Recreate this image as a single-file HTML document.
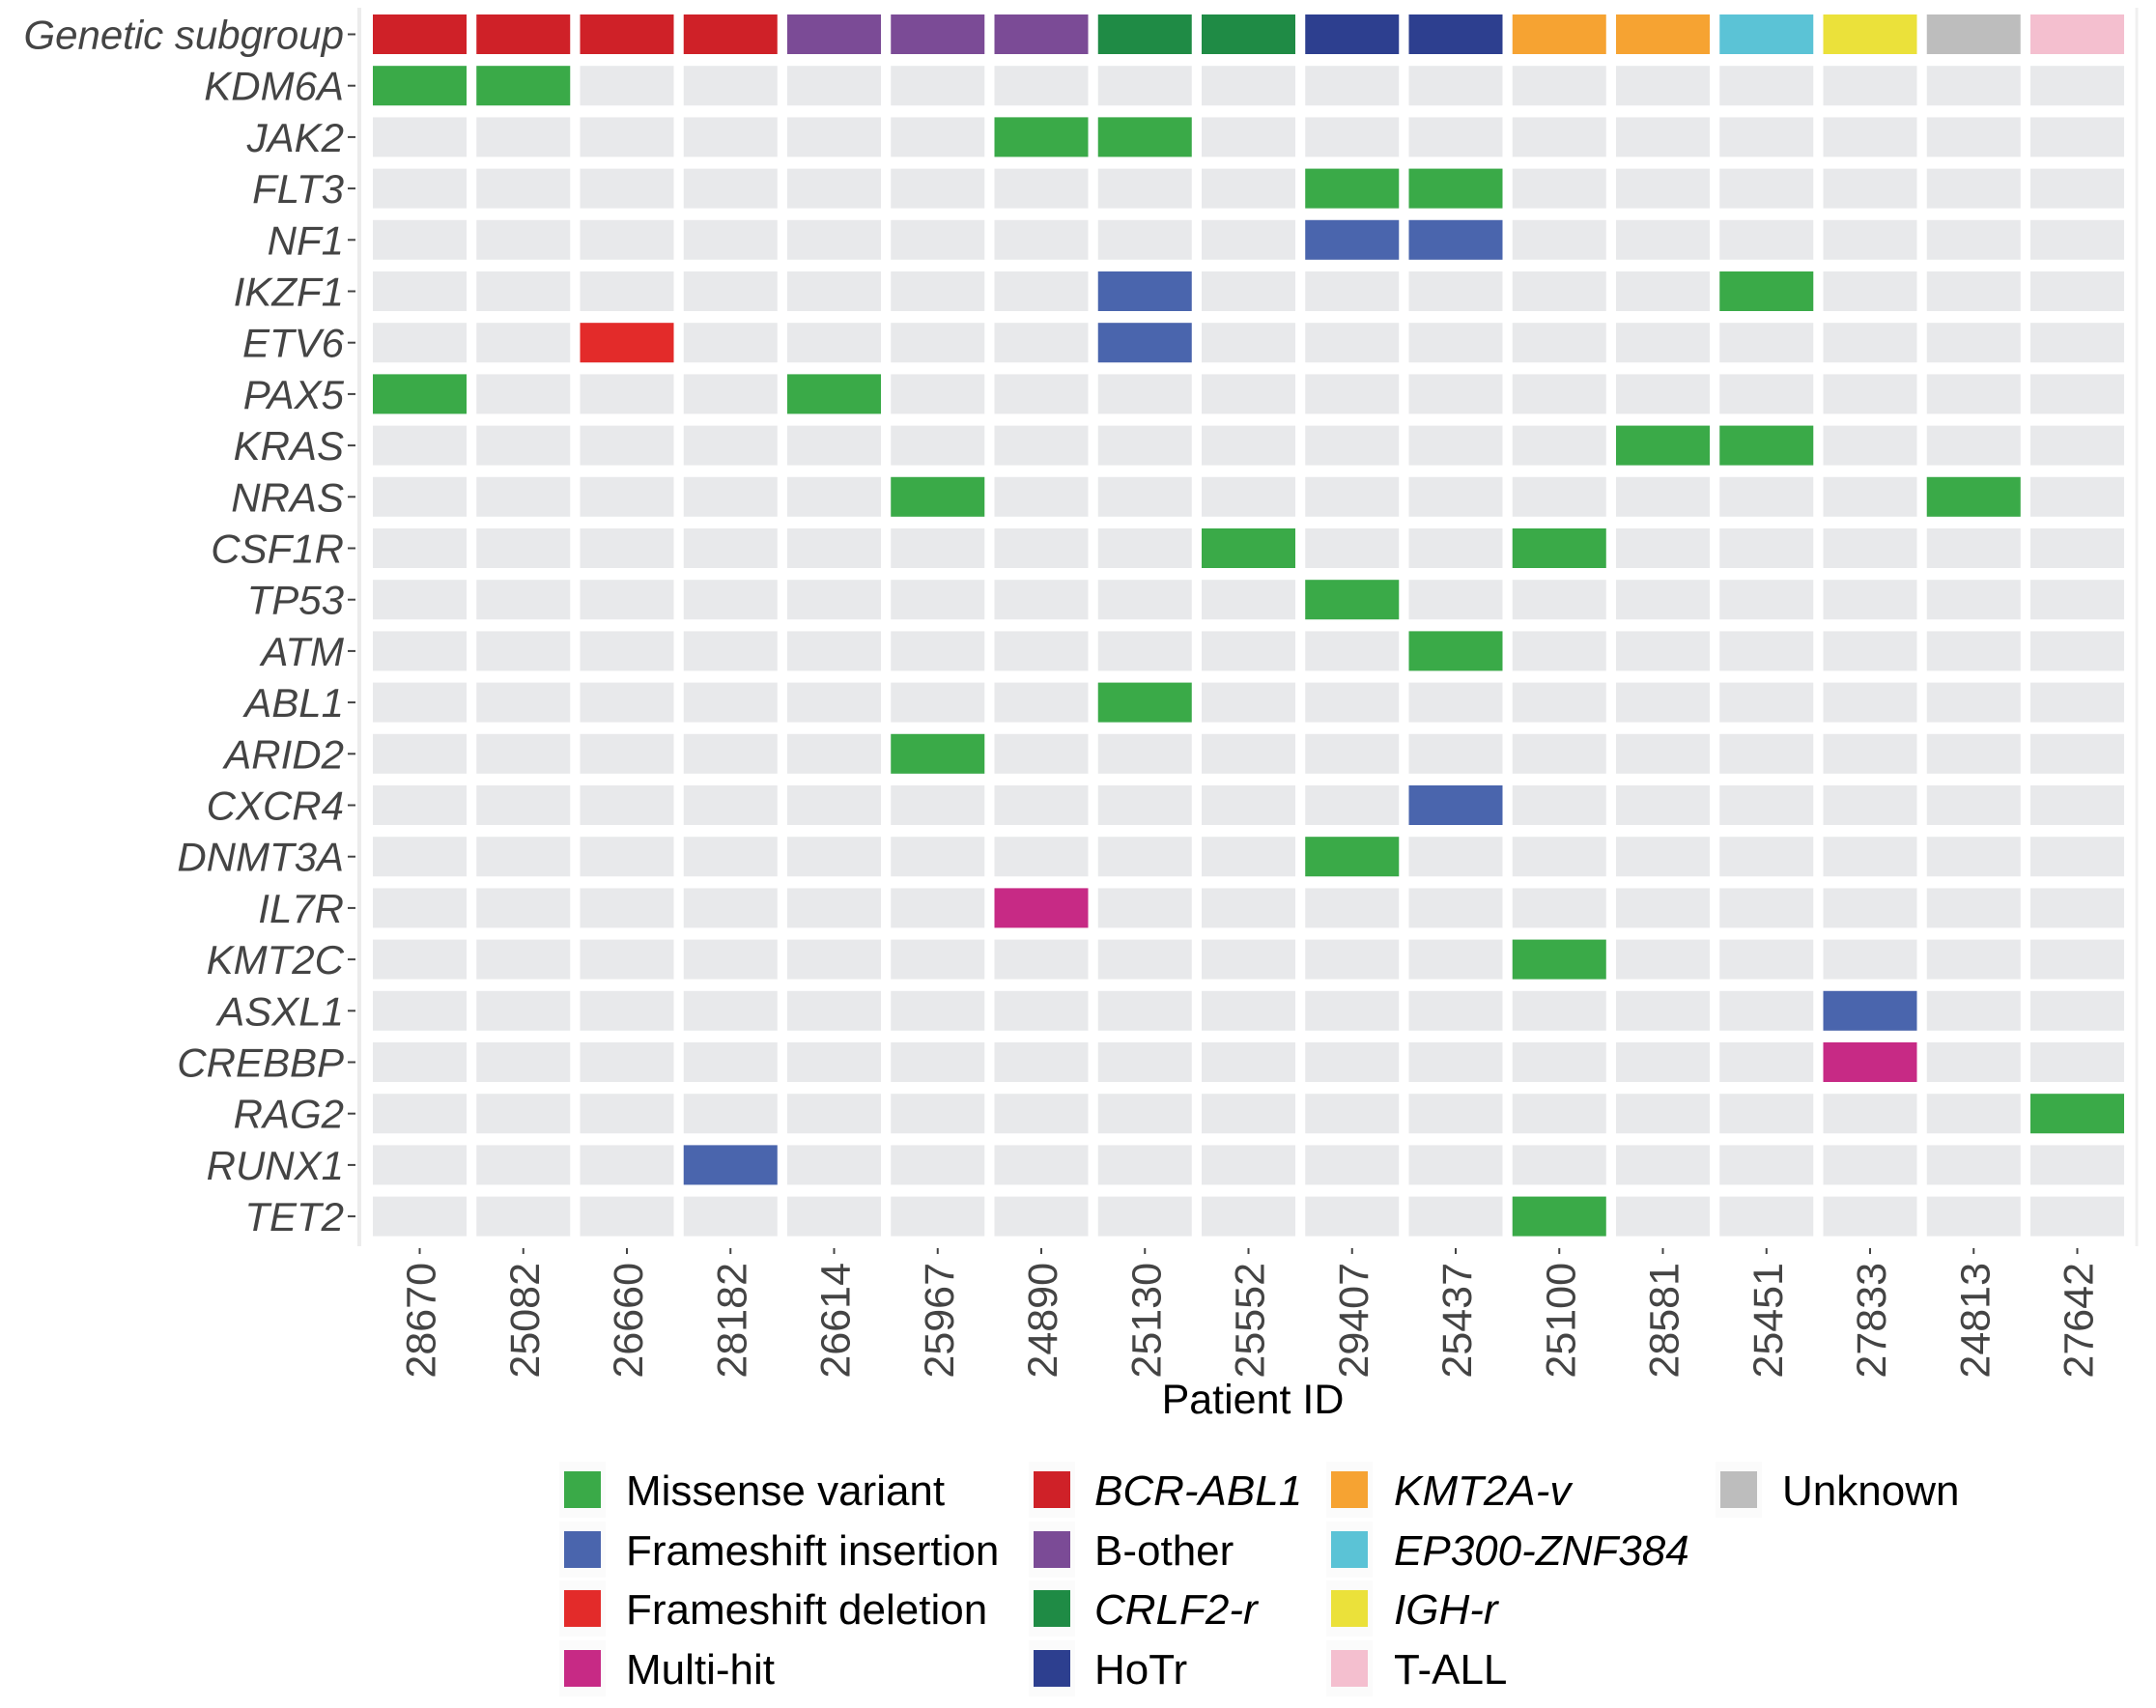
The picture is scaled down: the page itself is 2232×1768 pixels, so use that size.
<!DOCTYPE html>
<html><head><meta charset="utf-8"><style>
body{margin:0;background:#fff;}
svg text{font-family:"Liberation Sans",Arial,sans-serif;}
</style></head><body>
<svg id="chart" width="2232" height="1763" viewBox="0 0 2232 1763" xmlns="http://www.w3.org/2000/svg"></svg>
<script>
const patients=["28670","25082","26660","28182","26614","25967","24890","25130","25552","29407","25437","25100","28581","25451","27833","24813","27642"];
const subgroups=["BCR-ABL1","BCR-ABL1","BCR-ABL1","BCR-ABL1","B-other","B-other","B-other","CRLF2-r","CRLF2-r","HoTr","HoTr","KMT2A-v","KMT2A-v","EP300-ZNF384","IGH-r","Unknown","T-ALL"];
const genes=["KDM6A","JAK2","FLT3","NF1","IKZF1","ETV6","PAX5","KRAS","NRAS","CSF1R","TP53","ATM","ABL1","ARID2","CXCR4","DNMT3A","IL7R","KMT2C","ASXL1","CREBBP","RAG2","RUNX1","TET2"];
// mutations: [gene, patient index, type]
const mutations=[
["KDM6A",0,"Missense variant"],["KDM6A",1,"Missense variant"],
["JAK2",6,"Missense variant"],["JAK2",7,"Missense variant"],
["FLT3",9,"Missense variant"],["FLT3",10,"Missense variant"],
["NF1",9,"Frameshift insertion"],["NF1",10,"Frameshift insertion"],
["IKZF1",7,"Frameshift insertion"],["IKZF1",13,"Missense variant"],
["ETV6",2,"Frameshift deletion"],["ETV6",7,"Frameshift insertion"],
["PAX5",0,"Missense variant"],["PAX5",4,"Missense variant"],
["KRAS",12,"Missense variant"],["KRAS",13,"Missense variant"],
["NRAS",5,"Missense variant"],["NRAS",15,"Missense variant"],
["CSF1R",8,"Missense variant"],["CSF1R",11,"Missense variant"],
["TP53",9,"Missense variant"],["ATM",10,"Missense variant"],
["ABL1",7,"Missense variant"],["ARID2",5,"Missense variant"],
["CXCR4",10,"Frameshift insertion"],["DNMT3A",9,"Missense variant"],
["IL7R",6,"Multi-hit"],["KMT2C",11,"Missense variant"],
["ASXL1",14,"Frameshift insertion"],["CREBBP",14,"Multi-hit"],
["RAG2",16,"Missense variant"],["RUNX1",3,"Frameshift insertion"],
["TET2",11,"Missense variant"]];
const mutTypes=["Missense variant","Frameshift insertion","Frameshift deletion","Multi-hit"];
const mutColors=["#3aaa48","#4a65ad","#e32b2a","#c72a85"];
const sgTypes=["BCR-ABL1","B-other","CRLF2-r","HoTr","KMT2A-v","EP300-ZNF384","IGH-r","T-ALL","Unknown"];
const sgColors=["#cf2128","#7b4b96","#1f8b45","#2d3f8f","#f6a332","#5bc3d6","#ebe13a","#f4bfcf","#bdbdbd"];
const sgItalic=[true,false,true,false,true,true,true,false,false];

const NS="http://www.w3.org/2000/svg";
const svg=document.getElementById('chart');
function mk(tag,attrs,parent){const e=document.createElementNS(NS,tag);for(const k in attrs)e.setAttribute(k,attrs[k]);(parent||svg).appendChild(e);return e;}
const x0=386,pitchX=107.25,tw=97,y0=15,pitchY=53.2,th=41;
const xPos=i=>x0+i*pitchX;
const yPos=r=>y0+r*pitchY;
const rows=["Genetic subgroup"].concat(genes);

let al=mk('line',{x1:372,y1:8,x2:372,y2:1290,stroke:'#ececec','stroke-width':4});


let ar=mk('line',{x1:2212,y1:8,x2:2212,y2:1290,stroke:'#f0f0f0','stroke-width':3});



for(let r=1;r<rows.length;r++){for(let c=0;c<patients.length;c++){
 const t=mk('rect',{x:xPos(c),y:yPos(r),width:tw,height:th,fill:'#e8e9eb'});
 
 
}}
subgroups.forEach((s,c)=>{
 const t=mk('rect',{x:xPos(c),y:yPos(0),width:tw,height:th,fill:sgColors[sgTypes.indexOf(s)]});
 
 
});
mutations.forEach(m=>{
 const r=genes.indexOf(m[0])+1;
 const t=mk('rect',{x:xPos(m[1]),y:yPos(r),width:tw,height:th,fill:mutColors[mutTypes.indexOf(m[2])]});
 
 
});
rows.forEach((g,r)=>{
 const cy=yPos(r)+th/2;
 const t=mk('text',{x:356,y:cy+15,'text-anchor':'end','font-size':42,'font-style':'italic',fill:'#444'});
 t.textContent=g;
 
 
 const k=mk('line',{x1:360,y1:cy,x2:368,y2:cy,stroke:'#444','stroke-width':2});
 
 
});
patients.forEach((p,c)=>{
 const cx=xPos(c)+tw/2;
 const k=mk('line',{x1:cx,y1:1292,x2:cx,y2:1298,stroke:'#444','stroke-width':2});
 
 
 const t=mk('text',{x:0,y:0,'text-anchor':'end','font-size':43,fill:'#444',transform:`translate(${cx+16},1307) rotate(-90)`});
 t.textContent=p;
 
 
});
const xt=mk('text',{x:1297,y:1463,'text-anchor':'middle','font-size':43,fill:'#000'});
xt.textContent='Patient ID';



const legendItems=[];
mutTypes.forEach((m,i)=>legendItems.push([m,mutColors[i],false,0,i]));
const colOrder=[["BCR-ABL1","B-other","CRLF2-r","HoTr"],["KMT2A-v","EP300-ZNF384","IGH-r","T-ALL"],["Unknown"]];
colOrder.forEach((col,ci)=>col.forEach((s,ri)=>{const k=sgTypes.indexOf(s);legendItems.push([s,sgColors[k],sgItalic[k],ci+1,ri]);}));
const colKeyX=[584,1070,1378,1781],colTextX=[648,1133,1443,1845],rowY=[1542,1604,1665,1727];
legendItems.forEach(it=>{
 const [lab,col,ital,ci,ri]=it;
 const g=mk('g',{});
 
 
 mk('rect',{x:colKeyX[ci]-5,y:rowY[ri]-29,width:48,height:58,fill:'#fbfbfb'},g);
 mk('rect',{x:colKeyX[ci],y:rowY[ri]-19,width:38,height:38,fill:col},g);
 const t=mk('text',{x:colTextX[ci],y:rowY[ri]+16,'font-size':44,fill:'#000','font-style':ital?'italic':'normal'},g);
 t.textContent=lab;
});
</script>
</body></html>
